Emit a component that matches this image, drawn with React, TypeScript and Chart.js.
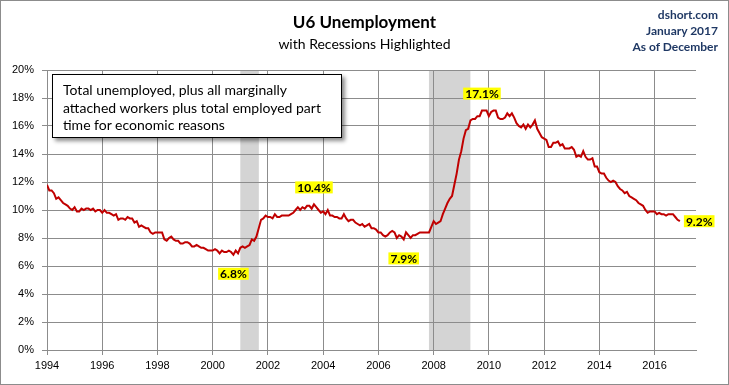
import React, { useEffect, useRef } from "react";
import { Chart, registerables } from "chart.js";

Chart.register(...registerables);

const START_YEAR = 1994;
const u6Values: number[] = [
  // 1994
  11.8, 11.4, 11.4, 11.2, 10.8, 10.9, 10.7, 10.5, 10.4, 10.3, 10.1, 10.0,
  // 1995
  10.2, 9.9, 9.9, 10.1, 10.0, 10.1, 10.1, 10.0, 10.1, 9.9, 10.0, 10.0,
  // 1996
  9.8, 10.0, 9.8, 9.8, 9.7, 9.6, 9.7, 9.3, 9.4, 9.4, 9.3, 9.5,
  // 1997
  9.4, 9.4, 9.1, 9.2, 8.8, 8.9, 8.8, 8.7, 8.7, 8.4, 8.3, 8.4,
  // 1998
  8.4, 8.4, 8.4, 7.9, 7.8, 8.0, 8.1, 7.9, 7.8, 7.8, 7.6, 7.6,
  // 1999
  7.7, 7.7, 7.6, 7.4, 7.4, 7.5, 7.4, 7.3, 7.3, 7.2, 7.1, 7.1,
  // 2000
  7.1, 7.2, 7.1, 6.9, 7.1, 7.0, 7.0, 7.1, 7.0, 6.8, 7.1, 6.9,
  // 2001
  7.3, 7.4, 7.3, 7.4, 7.5, 7.9, 7.8, 8.1, 8.7, 9.3, 9.4, 9.6,
  // 2002
  9.5, 9.5, 9.4, 9.7, 9.5, 9.5, 9.6, 9.6, 9.6, 9.6, 9.7, 9.8,
  // 2003
  10.0, 10.2, 10.0, 10.2, 10.1, 10.3, 10.3, 10.1, 10.4, 10.2, 10.0, 9.8,
  // 2004
  9.9, 9.7, 10.0, 9.6, 9.6, 9.5, 9.5, 9.4, 9.4, 9.7, 9.4, 9.2,
  // 2005
  9.3, 9.3, 9.1, 9.0, 8.9, 9.0, 8.8, 8.9, 9.0, 8.7, 8.7, 8.6,
  // 2006
  8.4, 8.4, 8.2, 8.1, 8.2, 8.4, 8.5, 8.4, 8.0, 8.2, 8.1, 7.9,
  // 2007
  8.4, 8.2, 8.0, 8.2, 8.2, 8.3, 8.4, 8.4, 8.4, 8.4, 8.4, 8.8,
  // 2008
  9.2, 9.0, 9.1, 9.2, 9.7, 10.1, 10.5, 10.8, 11.0, 11.8, 12.6, 13.6,
  // 2009
  14.2, 15.1, 15.7, 15.8, 16.4, 16.5, 16.5, 16.7, 16.7, 17.1, 17.1, 17.1,
  // 2010
  16.7, 17.0, 17.1, 17.1, 16.6, 16.5, 16.5, 16.6, 16.9, 16.7, 16.9, 16.6,
  // 2011
  16.2, 16.0, 15.9, 16.1, 15.8, 16.1, 15.9, 16.1, 16.4, 15.8, 15.5, 15.2,
  // 2012
  15.1, 15.0, 14.5, 14.5, 14.8, 14.8, 14.9, 14.6, 14.7, 14.4, 14.4, 14.4,
  // 2013
  14.5, 14.3, 13.8, 13.9, 13.8, 14.2, 13.8, 13.6, 13.6, 13.7, 13.1, 13.1,
  // 2014
  12.7, 12.6, 12.6, 12.3, 12.1, 12.0, 12.1, 12.0, 11.7, 11.5, 11.4, 11.2,
  // 2015
  11.3, 11.0, 10.9, 10.8, 10.7, 10.5, 10.4, 10.3, 10.0, 9.8, 9.9, 9.9,
  // 2016
  9.9, 9.7, 9.8, 9.7, 9.7, 9.6, 9.7, 9.7, 9.7, 9.5, 9.3, 9.2,
];

// recessions as [start, end] in fractional years
const recessionStarts: number[] = [2001.0, 2007.83];
const recessionEnds: number[] = [2001.67, 2009.33];

// highlighted labels: text, month index, placement
const labelTexts: string[] = ["6.8%", "10.4%", "7.9%", "17.1%", "9.2%"];
const labelMonthIdx: number[] = [81, 116, 155, 189, 275];
const labelPlacement: string[] = ["below", "above", "below", "above", "right"];

const xTickYears: number[] = [1994, 1996, 1998, 2000, 2002, 2004, 2006, 2008, 2010, 2012, 2014, 2016];
const yTickValues: number[] = [0, 2, 4, 6, 8, 10, 12, 14, 16, 18, 20];

const monthToYear = (i: number) => START_YEAR + i / 12;

export default function App() {
  const canvasRef = useRef<HTMLCanvasElement | null>(null);

  useEffect(() => {
    document.body.style.margin = "0";
    const canvas = canvasRef.current;
    if (!canvas) return;

    const points = u6Values.map((v, i) => ({ x: monthToYear(i), y: v }));

    const bandsPlugin = {
      id: "bands",
      beforeDraw(chart: any) {
        const { ctx, chartArea, scales } = chart;
        ctx.save();
        ctx.fillStyle = "#d4d4d4";
        for (let k = 0; k < recessionStarts.length; k++) {
          const x1 = scales.x.getPixelForValue(recessionStarts[k]);
          const x2 = scales.x.getPixelForValue(recessionEnds[k]);
          ctx.fillRect(x1, chartArea.top, x2 - x1, chartArea.bottom - chartArea.top);
        }
        ctx.restore();
      },
    };

    const labelsPlugin = {
      id: "hlabels",
      afterDatasetsDraw(chart: any) {
        const { ctx, scales } = chart;
        ctx.save();
        ctx.font = "bold 12px Lato, 'Open Sans', sans-serif";
        ctx.textBaseline = "middle";
        for (let k = 0; k < labelTexts.length; k++) {
          const idx = labelMonthIdx[k];
          const px = scales.x.getPixelForValue(monthToYear(idx));
          const py = scales.y.getPixelForValue(u6Values[idx]);
          const txt = labelTexts[k];
          const w = ctx.measureText(txt).width + 4;
          const h = 12;
          let cx = px;
          let cy = py;
          if (labelPlacement[k] === "above") cy = py - 17;
          else if (labelPlacement[k] === "below") cy = py + 19;
          else cx = px + 4 + w / 2;
          ctx.fillStyle = "#ffff00";
          ctx.fillRect(cx - w / 2, cy - h / 2, w, h);
          ctx.fillStyle = "#000000";
          ctx.textAlign = "center";
          ctx.fillText(txt, cx, cy + 0.5);
        }
        ctx.restore();
      },
    };

    const chart = new Chart(canvas, {
      type: "line",
      data: {
        datasets: [
          {
            data: points,
            borderColor: "#c00000",
            borderWidth: 2,
            pointRadius: 0,
            tension: 0,
            fill: false,
          },
        ],
      },
      options: {
        animation: false,
        responsive: false,
        maintainAspectRatio: false,
        layout: { padding: { top: 70, right: 33, left: 0, bottom: 0 } },
        plugins: {
          legend: { display: false },
          tooltip: { enabled: false },
          title: { display: false },
        },
        scales: {
          x: {
            type: "linear",
            min: 1994,
            max: 2017.5,
            afterFit: (s: any) => {
              s.height = 35;
            },
            afterBuildTicks: (s: any) => {
              s.ticks = xTickYears.map((v) => ({ value: v }));
            },
            ticks: {
              includeBounds: false,
              callback: (v: any) => String(v),
              color: "#000",
              font: { family: "'Liberation Sans', Arial, sans-serif", size: 11 },
              padding: 4,
              maxRotation: 0,
              autoSkip: false,
            },
            grid: { color: "#8c8c8c", lineWidth: 1, tickLength: 5, drawTicks: true },
            border: { color: "#8c8c8c", width: 1 },
          },
          y: {
            min: 0,
            max: 20,
            afterFit: (s: any) => {
              s.width = 47;
            },
            afterBuildTicks: (s: any) => {
              s.ticks = yTickValues.map((v) => ({ value: v }));
            },
            ticks: {
              callback: (v: any) => v + "%",
              color: "#000",
              font: { family: "'Liberation Sans', Arial, sans-serif", size: 11 },
              padding: 8,
              autoSkip: false,
            },
            grid: { color: "#8c8c8c", lineWidth: 1, tickLength: 5 },
            border: { color: "#8c8c8c", width: 1 },
          },
        },
      },
      plugins: [bandsPlugin, labelsPlugin],
    } as any);

    return () => chart.destroy();
  }, []);

  return (
    <div
      style={{
        position: "relative",
        width: 729,
        height: 385,
        boxSizing: "border-box",
        border: "1px solid #8c8c8c",
        background: "#fff",
        overflow: "hidden",
      }}
    >
      <canvas
        ref={canvasRef}
        width={729}
        height={385}
        style={{ position: "absolute", left: -1, top: -1, width: 729, height: 385 }}
      />
      <div
        style={{
          position: "absolute",
          left: 0,
          width: 727,
          top: 11,
          textAlign: "center",
          fontFamily: "Lato, 'Open Sans', sans-serif",
          fontWeight: 700,
          fontSize: 17,
          lineHeight: "20px",
          color: "#000",
        }}
      >
        U6 Unemployment
      </div>
      <div
        style={{
          position: "absolute",
          left: 0,
          width: 727,
          top: 34,
          textAlign: "center",
          fontFamily: "Lato, 'Open Sans', sans-serif",
          fontSize: 14,
          lineHeight: "18px",
          color: "#000",
        }}
      >
        with Recessions Highlighted
      </div>
      <div
        style={{
          position: "absolute",
          right: 10,
          top: 6,
          textAlign: "right",
          fontFamily: "Lato, 'Open Sans', sans-serif",
          fontWeight: 700,
          fontSize: 12,
          lineHeight: "16px",
          color: "#1f3864",
        }}
      >
        dshort.com
        <br />
        January 2017
        <br />
        As of December
      </div>
      <div
        style={{
          position: "absolute",
          left: 51,
          top: 73,
          width: 290,
          height: 64,
          boxSizing: "border-box",
          border: "1px solid #000",
          background: "#fff",
          boxShadow: "3px 3px 4px rgba(0,0,0,0.45)",
          padding: "6px 0 0 10px",
          fontFamily: "Lato, 'Open Sans', sans-serif",
          fontSize: 14,
          lineHeight: "17.5px",
          color: "#000",
        }}
      >
        Total unemployed, plus all marginally
        <br />
        attached workers plus total employed part
        <br />
        time for economic reasons
      </div>
    </div>
  );
}
